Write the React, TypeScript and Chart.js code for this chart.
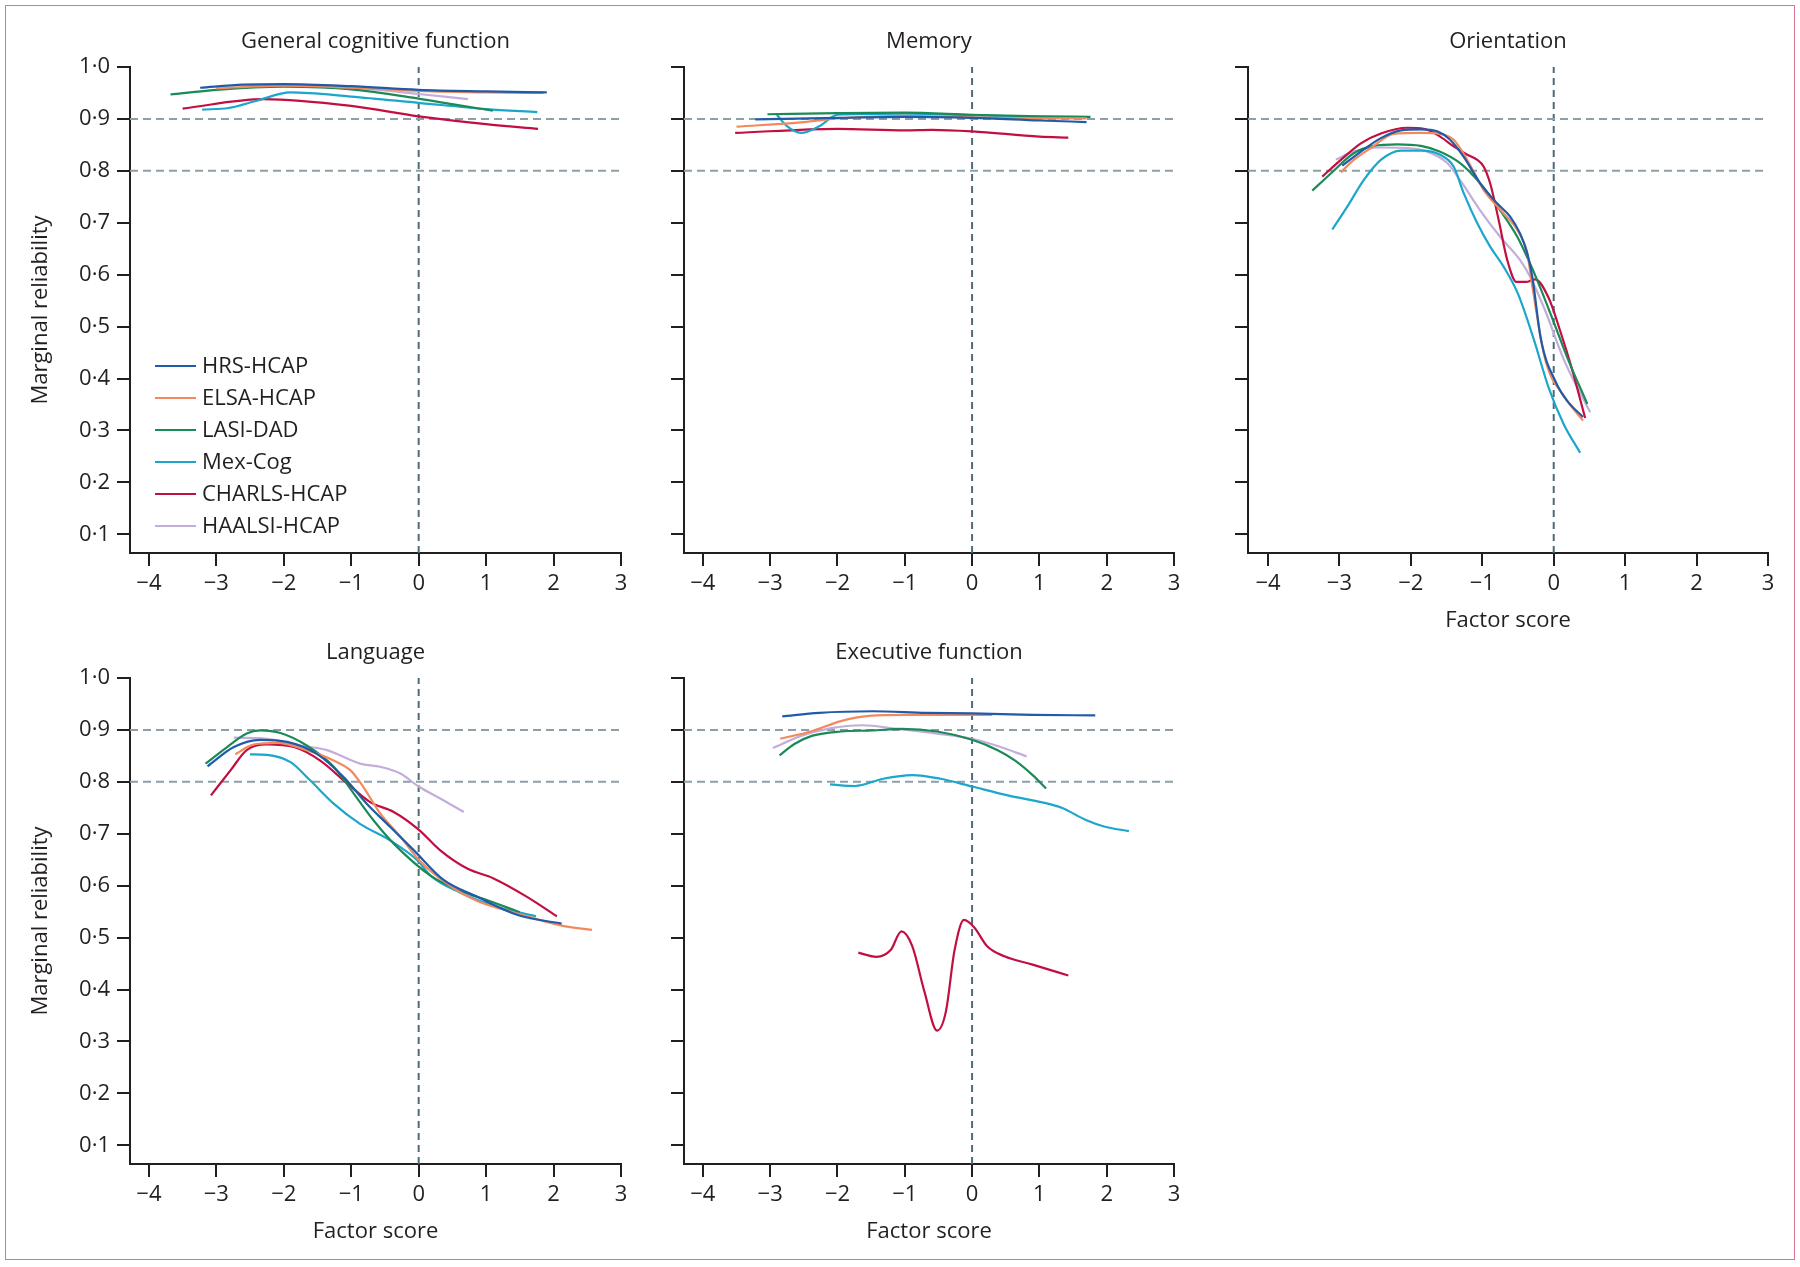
import React, { useEffect, useRef } from 'react';
import { Chart, registerables } from 'chart.js';

Chart.register(...registerables);

// ---------------- data ----------------
const SERIES_NAMES = ['HRS-HCAP', 'ELSA-HCAP', 'LASI-DAD', 'Mex-Cog', 'CHARLS-HCAP', 'HAALSI-HCAP'];
const SERIES_COLORS = ['#1f5ba8', '#f5895d', '#1b8a57', '#1ba6cc', '#c20f42', '#c3aedb'];

const X_TICKS = [-4, -3, -2, -1, 0, 1, 2, 3];
const Y_TICKS = [0.1, 0.2, 0.3, 0.4, 0.5, 0.6, 0.7, 0.8, 0.9, 1.0];
const REF_Y = [0.8, 0.9];
const REF_X = 0;
const X_MIN = -4.28;
const X_MAX = 3;
const Y_MIN = 0.064;
const Y_MAX = 1.0;

type Pt = [number, number];

// General cognitive function
const GEN_HRS: Pt[] = [[-3.24, 0.960], [-2.6, 0.966], [-2.0, 0.967], [-1.0, 0.963], [0, 0.956], [1.0, 0.953], [1.9, 0.951]];
const GEN_ELSA: Pt[] = [[-3.0, 0.959], [-2.0, 0.964], [-1.0, 0.960], [0, 0.954], [1.0, 0.951], [1.85, 0.950]];
const GEN_LASI: Pt[] = [[-3.68, 0.947], [-3.0, 0.956], [-2.0, 0.962], [-1.0, 0.957], [0, 0.939], [0.56, 0.927], [1.1, 0.916]];
const GEN_MEX: Pt[] = [[-3.21, 0.918], [-2.82, 0.921], [-2.4, 0.935], [-1.9, 0.951], [-1.0, 0.943], [0, 0.931], [1.0, 0.919], [1.76, 0.913]];
const GEN_CHARLS: Pt[] = [[-3.5, 0.920], [-2.3, 0.938], [-1.0, 0.925], [0, 0.905], [1.0, 0.890], [1.77, 0.881]];
const GEN_HAALSI: Pt[] = [[-2.6, 0.962], [-2.0, 0.965], [-1.0, 0.960], [0, 0.948], [0.73, 0.938]];

// Memory
const MEM_HRS: Pt[] = [[-3.22, 0.899], [-2.0, 0.902], [-1.0, 0.904], [0, 0.902], [1.0, 0.897], [1.7, 0.894]];
const MEM_ELSA: Pt[] = [[-3.5, 0.885], [-2.5, 0.894], [-2.0, 0.901], [-1.0, 0.906], [0, 0.903], [1.0, 0.901], [1.7, 0.901]];
const MEM_LASI: Pt[] = [[-3.04, 0.909], [-2.0, 0.911], [-1.0, 0.912], [0, 0.908], [1.0, 0.905], [1.76, 0.904]];
const MEM_MEX: Pt[] = [[-2.9, 0.908], [-2.75, 0.886], [-2.54, 0.873], [-2.27, 0.886], [-2.0, 0.908], [-1.0, 0.910], [0, 0.907], [1.0, 0.904], [1.6, 0.903]];
const MEM_CHARLS: Pt[] = [[-3.52, 0.873], [-2.0, 0.881], [-1.0, 0.878], [-0.6, 0.879], [0, 0.876], [1.0, 0.866], [1.43, 0.864]];
const MEM_HAALSI: Pt[] = [];

// Orientation
const ORI_HRS: Pt[] = [[-2.96, 0.810], [-2.70, 0.837], [-2.42, 0.863], [-2.14, 0.878], [-1.86, 0.880], [-1.63, 0.876], [-1.45, 0.860], [-1.26, 0.827], [-1.03, 0.776], [-0.79, 0.737], [-0.61, 0.712], [-0.47, 0.679], [-0.37, 0.641], [-0.30, 0.596], [-0.18, 0.476], [0.04, 0.390], [0.2, 0.355], [0.41, 0.326]];
const ORI_ELSA: Pt[] = [[-2.98, 0.797], [-2.80, 0.821], [-2.56, 0.844], [-2.24, 0.871], [-1.86, 0.873], [-1.59, 0.871], [-1.40, 0.860], [-1.21, 0.821], [-0.98, 0.763], [-0.70, 0.718], [-0.51, 0.686], [-0.37, 0.641], [-0.30, 0.578], [-0.12, 0.437], [0.14, 0.367], [0.41, 0.319]];
const ORI_LASI: Pt[] = [[-3.38, 0.762], [-3.12, 0.795], [-2.80, 0.834], [-2.52, 0.848], [-2.19, 0.851], [-1.86, 0.848], [-1.59, 0.837], [-1.31, 0.815], [-1.03, 0.776], [-0.75, 0.724], [-0.51, 0.673], [-0.33, 0.621], [-0.23, 0.589], [-0.02, 0.516], [0.2, 0.437], [0.47, 0.351]];
const ORI_MEX: Pt[] = [[-3.10, 0.687], [-2.89, 0.731], [-2.66, 0.782], [-2.42, 0.821], [-2.14, 0.839], [-1.86, 0.839], [-1.59, 0.831], [-1.40, 0.808], [-1.26, 0.757], [-1.07, 0.699], [-0.89, 0.654], [-0.70, 0.615], [-0.50, 0.563], [-0.28, 0.476], [-0.07, 0.382], [0.14, 0.312], [0.37, 0.257]];
const ORI_CHARLS: Pt[] = [[-3.24, 0.789], [-2.98, 0.821], [-2.70, 0.853], [-2.42, 0.872], [-2.05, 0.883], [-1.82, 0.881], [-1.59, 0.866], [-1.40, 0.847], [-1.21, 0.831], [-1.07, 0.821], [-0.98, 0.808], [-0.89, 0.776], [-0.77, 0.705], [-0.65, 0.628], [-0.52, 0.586], [-0.39, 0.586], [-0.26, 0.591], [-0.07, 0.555], [0.09, 0.492], [0.25, 0.421], [0.44, 0.324]];
const ORI_HAALSI: Pt[] = [[-3.05, 0.822], [-2.80, 0.837], [-2.42, 0.845], [-2.05, 0.844], [-1.77, 0.837], [-1.49, 0.815], [-1.31, 0.782], [-1.03, 0.724], [-0.75, 0.673], [-0.47, 0.628], [-0.33, 0.596], [-0.12, 0.531], [0.14, 0.437], [0.51, 0.335]];

// Language
const LAN_HRS: Pt[] = [[-3.13, 0.830], [-2.74, 0.867], [-2.35, 0.881], [-1.95, 0.877], [-1.51, 0.854], [-1.11, 0.809], [-0.77, 0.758], [-0.42, 0.713], [-0.07, 0.668], [0.37, 0.611], [0.86, 0.579], [1.48, 0.543], [2.12, 0.527]];
const LAN_ELSA: Pt[] = [[-2.72, 0.853], [-2.45, 0.872], [-2.10, 0.875], [-1.66, 0.861], [-1.26, 0.841], [-1.01, 0.822], [-0.82, 0.790], [-0.57, 0.739], [-0.27, 0.694], [0.0, 0.650], [0.43, 0.603], [0.86, 0.571], [1.48, 0.546], [2.12, 0.523], [2.57, 0.515]];
const LAN_LASI: Pt[] = [[-3.16, 0.835], [-2.84, 0.867], [-2.55, 0.893], [-2.35, 0.899], [-2.05, 0.894], [-1.66, 0.870], [-1.26, 0.829], [-0.96, 0.777], [-0.67, 0.726], [-0.37, 0.681], [0.18, 0.619], [0.61, 0.591], [1.04, 0.571], [1.5, 0.549]];
const LAN_MEX: Pt[] = [[-2.50, 0.853], [-2.25, 0.852], [-1.90, 0.838], [-1.61, 0.803], [-1.26, 0.758], [-0.87, 0.719], [-0.42, 0.687], [-0.02, 0.649], [0.18, 0.619], [0.61, 0.587], [1.17, 0.559], [1.74, 0.541]];
const LAN_CHARLS: Pt[] = [[-3.08, 0.774], [-2.79, 0.822], [-2.55, 0.861], [-2.25, 0.872], [-1.85, 0.867], [-1.46, 0.841], [-1.06, 0.797], [-0.72, 0.761], [-0.37, 0.742], [0, 0.708], [0.32, 0.668], [0.72, 0.633], [1.11, 0.614], [1.6, 0.579], [2.05, 0.541]];
const LAN_HAALSI: Pt[] = [[-2.74, 0.885], [-2.25, 0.883], [-1.76, 0.870], [-1.36, 0.861], [-0.87, 0.835], [-0.57, 0.829], [-0.27, 0.816], [0, 0.791], [0.32, 0.768], [0.67, 0.742]];

// Executive function
const EXE_HRS: Pt[] = [[-2.82, 0.926], [-2.27, 0.933], [-1.48, 0.936], [-0.68, 0.933], [0, 0.932], [0.9, 0.929], [1.83, 0.928]];
const EXE_ELSA: Pt[] = [[-2.85, 0.883], [-2.37, 0.898], [-1.95, 0.917], [-1.53, 0.927], [-0.95, 0.929], [-0.42, 0.929], [0.3, 0.929]];
const EXE_LASI: Pt[] = [[-2.86, 0.851], [-2.64, 0.873], [-2.37, 0.889], [-1.95, 0.897], [-1.48, 0.899], [-1.05, 0.902], [-0.52, 0.897], [0, 0.881], [0.38, 0.861], [0.64, 0.841], [0.9, 0.813], [1.1, 0.787]];
const EXE_MEX: Pt[] = [[-2.11, 0.795], [-1.74, 0.792], [-1.32, 0.806], [-0.89, 0.813], [-0.47, 0.806], [0, 0.791], [0.53, 0.774], [1.06, 0.760], [1.33, 0.750], [1.7, 0.726], [1.96, 0.714], [2.33, 0.705]];
const EXE_CHARLS: Pt[] = [[-1.69, 0.471], [-1.42, 0.463], [-1.21, 0.476], [-1.05, 0.512], [-0.89, 0.484], [-0.71, 0.397], [-0.52, 0.321], [-0.39, 0.357], [-0.26, 0.476], [-0.12, 0.534], [0.03, 0.520], [0.22, 0.484], [0.48, 0.464], [0.9, 0.448], [1.43, 0.427]];
const EXE_HAALSI: Pt[] = [[-2.96, 0.865], [-2.53, 0.889], [-2.11, 0.903], [-1.63, 0.909], [-1.11, 0.902], [-0.52, 0.893], [0, 0.883], [0.38, 0.869], [0.81, 0.849]];

// ---------------- styling / layout ----------------
const INK = '#231f20';
const REF_H_COLOR = '#8d9fa9';
const REF_V_COLOR = '#4f6b7a';
const FONT = "'Open Sans', 'Noto Sans', sans-serif";
const FS = 22;
const YW = 125; // y-axis box width
const TH = 52; // title band height
const XH = 90; // x-axis box height
const RP = 20; // right padding

type PanelSpec = {
  title: string;
  left: number;
  top: number;
  width: number;
  height: number;
  yLabels: boolean;
  yTitle: boolean;
  xTitle: boolean;
  legend: boolean;
  series: Pt[][];
};

const PANELS: PanelSpec[] = [
  { title: 'General cognitive function', left: 130, top: 67, width: 491, height: 486, yLabels: true, yTitle: true, xTitle: false, legend: true,
    series: [GEN_HRS, GEN_ELSA, GEN_LASI, GEN_MEX, GEN_CHARLS, GEN_HAALSI] },
  { title: 'Memory', left: 684, top: 67, width: 490, height: 486, yLabels: false, yTitle: false, xTitle: false, legend: false,
    series: [MEM_HRS, MEM_ELSA, MEM_LASI, MEM_MEX, MEM_CHARLS, MEM_HAALSI] },
  { title: 'Orientation', left: 1248, top: 67, width: 520, height: 486, yLabels: false, yTitle: false, xTitle: true, legend: false,
    series: [ORI_HRS, ORI_ELSA, ORI_LASI, ORI_MEX, ORI_CHARLS, ORI_HAALSI] },
  { title: 'Language', left: 130, top: 678, width: 491, height: 486, yLabels: true, yTitle: true, xTitle: true, legend: false,
    series: [LAN_HRS, LAN_ELSA, LAN_LASI, LAN_MEX, LAN_CHARLS, LAN_HAALSI] },
  { title: 'Executive function', left: 684, top: 678, width: 490, height: 486, yLabels: false, yTitle: false, xTitle: true, legend: false,
    series: [EXE_HRS, EXE_ELSA, EXE_LASI, EXE_MEX, EXE_CHARLS, EXE_HAALSI] },
];

const fmtY = (v: number) => v.toFixed(1).replace('.', '\u00b7');
const fmtX = (v: number) => (v < 0 ? '\u2212' + Math.abs(v) : String(v));

const insetLegend = {
  id: 'insetLegend',
  afterDatasetsDraw(chart: any) {
    const { ctx, chartArea } = chart;
    ctx.save();
    SERIES_NAMES.forEach((name, i) => {
      const y = chartArea.top + 299 + i * 32;
      ctx.strokeStyle = SERIES_COLORS[i];
      ctx.lineWidth = 2;
      ctx.beginPath();
      ctx.moveTo(chartArea.left + 25, y);
      ctx.lineTo(chartArea.left + 66, y);
      ctx.stroke();
      ctx.fillStyle = INK;
      ctx.font = `${FS}px ${FONT}`;
      ctx.textBaseline = 'middle';
      ctx.textAlign = 'left';
      ctx.fillText(name, chartArea.left + 72, y + 1);
    });
    ctx.restore();
  },
};

function Panel({ spec }: { spec: PanelSpec }) {
  const ref = useRef<HTMLCanvasElement | null>(null);
  const cw = YW + spec.width + RP;
  const ch = TH + spec.height + XH;

  useEffect(() => {
    if (!ref.current) return;
    const datasets: any[] = [];
    spec.series.forEach((pts, i) => {
      if (!pts.length) return;
      datasets.push({
        label: SERIES_NAMES[i],
        data: pts.map(([x, y]) => ({ x, y })),
        borderColor: SERIES_COLORS[i],
        borderWidth: 2.2,
        pointRadius: 0,
        fill: false,
        cubicInterpolationMode: 'monotone',
        order: 1,
      });
    });
    REF_Y.forEach((ry) => {
      datasets.push({
        label: 'ref',
        data: [{ x: X_MIN, y: ry }, { x: X_MAX, y: ry }],
        borderColor: REF_H_COLOR,
        borderWidth: 2,
        borderDash: [8, 5],
        pointRadius: 0,
        tension: 0,
        order: 10,
      });
    });
    datasets.push({
      label: 'ref',
      data: [{ x: REF_X, y: Y_MIN }, { x: REF_X, y: Y_MAX }],
      borderColor: REF_V_COLOR,
      borderWidth: 2,
      borderDash: [7, 5],
      pointRadius: 0,
      tension: 0,
      order: 10,
    });

    const font = { family: FONT, size: FS, weight: 'normal' as const };
    const chart = new Chart(ref.current, {
      type: 'line',
      data: { datasets },
      plugins: spec.legend ? [insetLegend] : [],
      options: {
        animation: false,
        responsive: false,
        maintainAspectRatio: false,
        layout: { padding: { left: 0, top: 0, right: RP, bottom: 0 } },
        plugins: {
          legend: { display: false },
          tooltip: { enabled: false },
          title: {
            display: true,
            text: spec.title,
            fullSize: false,
            color: INK,
            font,
            padding: { top: 13.8, bottom: 11.8 },
          },
        },
        scales: {
          x: {
            type: 'linear',
            min: X_MIN,
            max: X_MAX,
            afterBuildTicks: (axis: any) => {
              axis.ticks = X_TICKS.map((v) => ({ value: v }));
            },
            afterFit: (s: any) => {
              s.height = XH;
            },
            grid: { drawOnChartArea: false, drawTicks: true, tickLength: 13, color: INK, lineWidth: 2 },
            border: { display: true, color: INK, width: 2 },
            ticks: {
              color: INK,
              font,
              padding: 5,
              maxRotation: 0,
              autoSkip: false,
              callback: (v: any) => fmtX(Number(v)),
            },
            title: {
              display: spec.xTitle,
              text: 'Factor score',
              color: INK,
              font,
              padding: { top: 0, bottom: 9 },
            },
          },
          y: {
            type: 'linear',
            min: Y_MIN,
            max: Y_MAX,
            afterBuildTicks: (axis: any) => {
              axis.ticks = Y_TICKS.map((v) => ({ value: v }));
            },
            afterFit: (s: any) => {
              s.width = YW;
            },
            grid: { drawOnChartArea: false, drawTicks: true, tickLength: 13, color: INK, lineWidth: 2 },
            border: { display: true, color: INK, width: 2 },
            ticks: {
              display: spec.yLabels,
              color: INK,
              font,
              padding: 7,
              autoSkip: false,
              callback: (v: any) => fmtY(Number(v)),
            },
            title: {
              display: spec.yTitle,
              text: 'Marginal reliability',
              color: INK,
              font,
              padding: { top: 22.5, bottom: 0 },
            },
          },
        },
      } as any,
    });
    return () => chart.destroy();
  }, [spec]);

  return (
    <canvas
      ref={ref}
      width={cw}
      height={ch}
      style={{
        position: 'absolute',
        left: spec.left - YW,
        top: spec.top - TH,
        width: cw,
        height: ch,
      }}
    />
  );
}

export default function App() {
  return (
    <div
      style={{
        position: 'absolute',
        left: 0,
        top: 0,
        width: 1800,
        height: 1267,
        background: '#ffffff',
        overflow: 'hidden',
      }}
    >
      <div
        style={{
          position: 'absolute',
          left: 5,
          top: 5,
          width: 1790,
          height: 1255,
          border: '1.5px solid #d7768f',
          boxSizing: 'border-box',
        }}
      />
      {PANELS.map((p) => (
        <Panel key={p.title} spec={p} />
      ))}
    </div>
  );
}
